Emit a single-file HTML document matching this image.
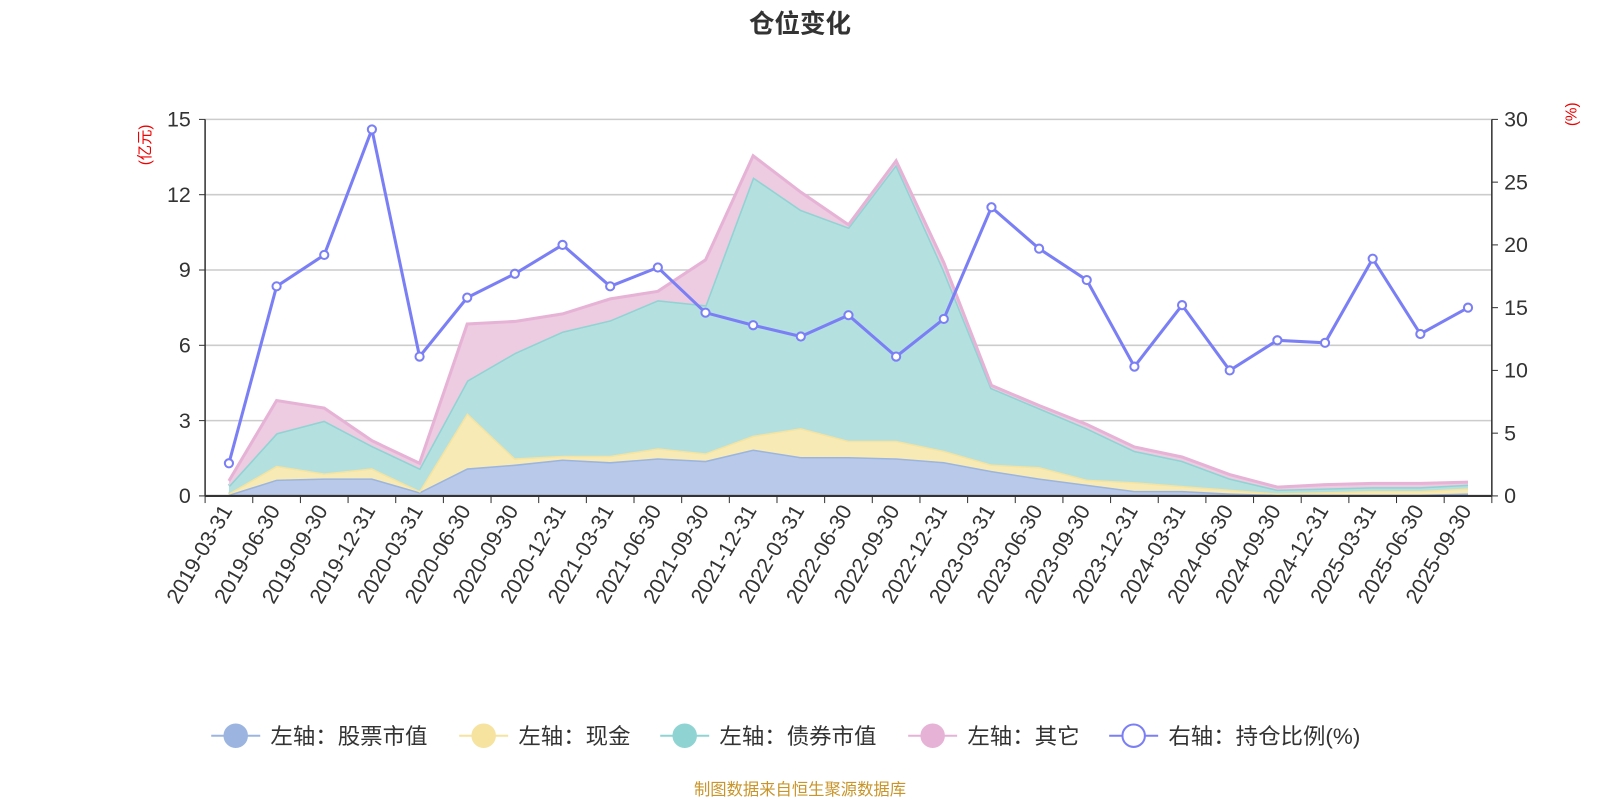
<!DOCTYPE html>
<html><head><meta charset="utf-8"><style>
html,body{margin:0;padding:0;background:#fff;}
svg{display:block;font-family:"Liberation Sans","Noto Sans CJK SC",sans-serif;}
</style></head><body>
<svg id="chart" width="1600" height="800" viewBox="0 0 1568 784">
<text x="784" y="32" text-anchor="middle" font-size="25" font-weight="bold" fill="#333">仓位变化</text>
<text transform="translate(147,142) rotate(-90)" text-anchor="middle" font-size="15" fill="#e00">(亿元)</text>
<text transform="translate(1545,112) rotate(-90)" text-anchor="middle" font-size="15" fill="#e00">(%)</text>
<g id="grid"></g><g id="areas"></g><g id="axes"></g><g id="line"></g>
<g id="legend"></g>
<text x="784" y="779" text-anchor="middle" font-size="16" fill="#c8952a">制图数据来自恒生聚源数据库</text>
</svg>
<script>
const categories=["2019-03-31","2019-06-30","2019-09-30","2019-12-31","2020-03-31","2020-06-30","2020-09-30","2020-12-31","2021-03-31","2021-06-30","2021-09-30","2021-12-31","2022-03-31","2022-06-30","2022-09-30","2022-12-31","2023-03-31","2023-06-30","2023-09-30","2023-12-31","2024-03-31","2024-06-30","2024-09-30","2024-12-31","2025-03-31","2025-06-30","2025-09-30"];
const stockValues=[0.05,0.65,0.7,0.7,0.15,1.1,1.25,1.45,1.35,1.5,1.4,1.85,1.55,1.55,1.5,1.35,1.0,0.7,0.45,0.2,0.2,0.1,0.05,0.05,0.05,0.05,0.1];
const cashValues=[0.05,0.55,0.2,0.4,0.05,2.2,0.25,0.15,0.25,0.4,0.3,0.55,1.15,0.65,0.7,0.45,0.25,0.45,0.2,0.35,0.2,0.15,0.05,0.1,0.15,0.15,0.2];
const bondValues=[0.3,1.3,2.1,0.9,0.9,1.3,4.2,4.95,5.4,5.9,5.9,10.3,8.7,8.5,11.0,7.2,3.05,2.35,2.05,1.25,1.0,0.45,0.15,0.15,0.15,0.15,0.15];
const otherValues=[0.2,1.3,0.5,0.2,0.2,2.25,1.25,0.7,0.85,0.35,1.8,0.85,0.7,0.1,0.15,0.3,0.1,0.1,0.15,0.15,0.15,0.15,0.1,0.15,0.15,0.15,0.1];
const ratioValues=[2.6,16.7,19.2,29.2,11.1,15.8,17.7,20.0,16.7,18.2,14.6,13.6,12.7,14.4,11.1,14.1,23.0,19.7,17.2,10.3,15.2,10.0,12.4,12.2,18.9,12.9,15.0];
const leftTicks=[0,3,6,9,12,15];
const rightTicks=[0,5,10,15,20,25,30];

const NS="http://www.w3.org/2000/svg";
const X0=201,X1=1462,Y0=486,Y1=117;
const band=(X1-X0)/categories.length;
const xS=i=>X0+band*(i+0.5);
const yL=v=>Y0-(v/15)*(Y0-Y1);
const yR=v=>Y0-(v/30)*(Y0-Y1);
function mk(tag,attrs,parent){const e=document.createElementNS(NS,tag);for(const k in attrs)e.setAttribute(k,attrs[k]);parent.appendChild(e);return e;}
const grid=document.getElementById('grid'),axes=document.getElementById('axes'),areas=document.getElementById('areas'),lineG=document.getElementById('line'),leg=document.getElementById('legend');

leftTicks.forEach(t=>{
  if(t>0){const g=mk('line',{x1:X0,x2:X1,y1:yL(t),y2:yL(t),stroke:'#ccc','stroke-width':1.5},grid);
  
  }
  const tl=mk('text',{x:X0-14,y:yL(t)+7,'text-anchor':'end','font-size':21,fill:'#333'},axes);tl.textContent=t;
  
  
  mk('line',{x1:X0-6,x2:X0,y1:yL(t),y2:yL(t),stroke:'#333'},axes);
});
rightTicks.forEach(t=>{
  const tl=mk('text',{x:X1+12,y:yR(t)+7,'text-anchor':'start','font-size':21,fill:'#333'},axes);tl.textContent=t;
  
  
  mk('line',{x1:X1,x2:X1+6,y1:yR(t),y2:yR(t),stroke:'#333'},axes);
});
mk('line',{x1:X0,x2:X0,y1:Y1,y2:Y0,stroke:'#333','stroke-width':1.5},axes);
mk('line',{x1:X1,x2:X1,y1:Y1,y2:Y0,stroke:'#333','stroke-width':1.5},axes);
mk('line',{x1:X0,x2:X1,y1:Y0,y2:Y0,stroke:'#333','stroke-width':2},axes);
for(let i=0;i<=categories.length;i++){mk('line',{x1:X0+band*i,x2:X0+band*i,y1:Y0,y2:Y0+7,stroke:'#333'},axes);}
categories.forEach((c,i)=>{
  const x=xS(i)+4,y=Y0+14;
  const t=mk('text',{x:x,y:y,transform:`rotate(-60 ${x} ${y})`,'text-anchor':'end','font-size':21,fill:'#333'},axes);t.textContent=c;
  
  
});

const series=[[stockValues,'#b9c9e9','#9bb5e0','stock-area'],[cashValues,'#f8eab5','#f5e39f','cash-area'],[bondValues,'#b4e0e0','#8fd3d3','bond-area'],[otherValues,'#edcbe1','#e6b3d6','other-area']];
let base=categories.map(()=>0);
series.forEach(([vals,fill,stroke,name])=>{
  const top=base.map((b,i)=>b+vals[i]);
  let d='M'+top.map((v,i)=>xS(i)+','+yL(v)).join('L');
  for(let i=base.length-1;i>=0;i--)d+='L'+xS(i)+','+yL(base[i]);
  const a=mk('path',{d:d+'Z',fill:fill,stroke:'none'},areas);
  
  
  const l=mk('polyline',{points:top.map((v,i)=>xS(i)+','+yL(v)).join(' '),fill:'none',stroke:stroke,'stroke-width':3},areas);
  
  
  base=top;
});
const pl=mk('polyline',{points:ratioValues.map((v,i)=>xS(i)+','+yR(v)).join(' '),fill:'none',stroke:'#7b7ff5','stroke-width':3},lineG);


ratioValues.forEach((v,i)=>{
  const c=mk('circle',{cx:xS(i),cy:yR(v),r:4,fill:'#fff',stroke:'#7b7ff5','stroke-width':2},lineG);
  
  
});

const legendItems=[['左轴：股票市值','#9bb5e0',true,207],['左轴：现金','#f5e39f',true,450],['左轴：债券市值','#8fd3d3',true,647],['左轴：其它','#e6b3d6',true,890],['右轴：持仓比例(%)','#7b7ff5',false,1087]];
legendItems.forEach(([label,col,filled,x])=>{
  const g=mk('g',{},leg);
  
  
  mk('line',{x1:x,x2:x+48,y1:721,y2:721,stroke:col,'stroke-width':2},g);
  mk('circle',{cx:x+24,cy:721,r:11,fill:filled?col:'#fff',stroke:col,'stroke-width':2},g);
  const t=mk('text',{x:x+58,y:729,'font-size':22,fill:'#333'},g);t.textContent=label;
});
</script>
</body></html>
